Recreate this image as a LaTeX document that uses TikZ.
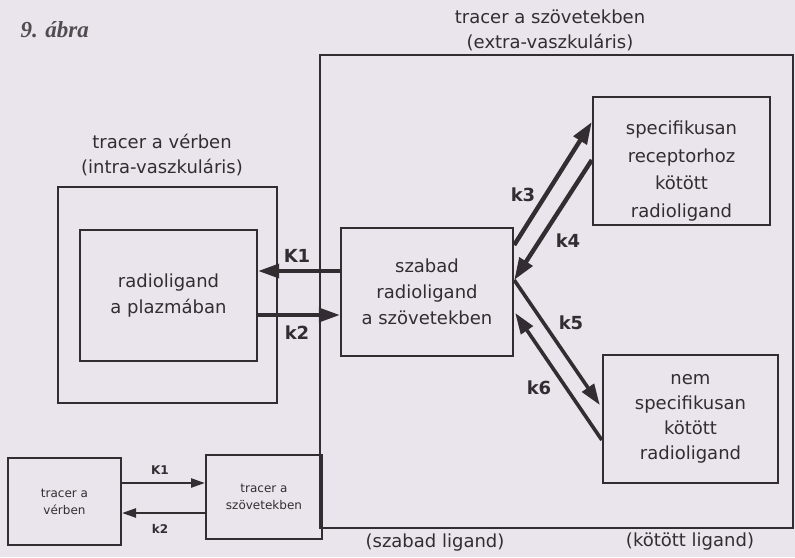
\documentclass[tikz,border=0pt]{standalone}
\usepackage{fontspec}
\setmainfont{DejaVu Sans}
\newfontfamily\capfont{Liberation Serif}
\usetikzlibrary{arrows.meta,calc}
\definecolor{paper}{HTML}{EAE5EC}
\definecolor{ink}{HTML}{332D31}
\begin{document}
\begin{tikzpicture}[x=1pt,y=-1pt,
  box/.style={draw=ink, line width=2.4pt, inner sep=0pt, align=center, text=ink,
              font=\fontsize{18}{26}\selectfont},
  sbox/.style={draw=ink, line width=2pt, inner sep=0pt, align=center, text=ink,
              font=\fontsize{12}{17}\selectfont},
  txt/.style={text=ink, align=center, font=\fontsize{18}{25}\selectfont},
  lab/.style={text=ink, font=\fontsize{18}{20}\selectfont\bfseries},
  slab/.style={text=ink, font=\fontsize{12}{14}\selectfont\bfseries},
  arr/.style={draw=ink, line width=3.6pt, -{Triangle[length=21pt,width=14pt]}},
  warr/.style={draw=ink, line width=4.4pt, -{Triangle[length=22pt,width=15pt]}},
  sarr/.style={draw=ink, line width=2.4pt, -{Triangle[length=14pt,width=9pt]}}]
\fill[paper] (0,0) rectangle (795,557);
\useasboundingbox (0,0) rectangle (795,557);

% caption
\node[text=ink!85, anchor=base west, font=\capfont\bfseries\itshape\fontsize{23}{26}\selectfont] (cap) at (17,37) {9. ábra};

% titles
\node[txt] (ttissue) at (550,30) {tracer a szövetekben\\(extra-vaszkuláris)};
\node[txt] (tblood) at (162,155) {tracer a vérben\\(intra-vaszkuláris)};

% boxes
\node[box, minimum width=473pt, minimum height=473pt] (frame) at (556.5,291.5) {};
\node[box, minimum width=219pt, minimum height=216pt] (blood) at (167.5,295) {};
\node[box, minimum width=177pt, minimum height=131pt] (plasma) at (168.5,295.5) {radioligand\\a plazmában};
\node[box, minimum width=172pt, minimum height=128pt] (cb) at (427,292) {szabad\\radioligand\\a szövetekben};
\node[box, minimum width=177pt, minimum height=128pt] (spec) at (681.5,161) {};
\node[txt, font=\fontsize{18}{27.5}\selectfont] (spectxt) at ($(spec.center)+(0,10)$) {specifikusan\\receptorhoz\\kötött\\radioligand};
\node[box, minimum width=175pt, minimum height=128pt, font=\fontsize{18}{25}\selectfont] (nonspec) at (690.5,419) {nem\\specifikusan\\kötött\\radioligand};

% bottom labels
\node[txt] (lfree) at (435,543) {(szabad ligand)};
\node[txt] (lbound) at (690,542) {(kötött ligand)};

% small diagram
\node[sbox, minimum width=113pt, minimum height=87pt] (sblood) at (64.5,501.5) {tracer a\\vérben};
\node[sbox, minimum width=116pt, minimum height=84pt] (stissue) at (264,497) {tracer a\\szövetekben};

% big arrows
\coordinate (k1s) at ($(cb.west)+(0,-21)$);
\draw[arr] (k1s) -- (plasma.east |- k1s);
\coordinate (k2s) at ($(plasma.east)+(0,19.5)$);
\draw[arr] (k2s) -- (cb.west |- k2s);
\draw[warr] ($(cb.east)+(0,-47)$) -- ($(spec.west)+(0,-39)$);
\draw[warr] ($(spec.west)+(0,-1)$) -- ($(cb.east)+(0,-12)$);
\draw[arr] ($(cb.east)+(0,-12)$) -- ($(nonspec.west)+(-2,-14)$);
\draw[arr] ($(nonspec.west)+(0,21)$) -- ($(cb.east)+(1,21)$);

% small arrows
\coordinate (sk1) at ($(sblood.east)+(0,-18.5)$);
\draw[sarr] (sk1) -- (stissue.west |- sk1);
\coordinate (sk2) at ($(stissue.west)+(0,16)$);
\draw[sarr] (sk2) -- (sblood.east |- sk2);

% rate labels
\node[lab] (lk1) at (297,256) {K1};
\node[lab] (lk2) at (297,333) {k2};
\node[lab] (lk3) at (523,195) {k3};
\node[lab] (lk4) at (568,241) {k4};
\node[lab] (lk5) at (571,323) {k5};
\node[lab] (lk6) at (539,388) {k6};
\node[slab] (slk1) at (160,470) {K1};
\node[slab] (slk2) at (160,529) {k2};
\end{tikzpicture}
\end{document}
